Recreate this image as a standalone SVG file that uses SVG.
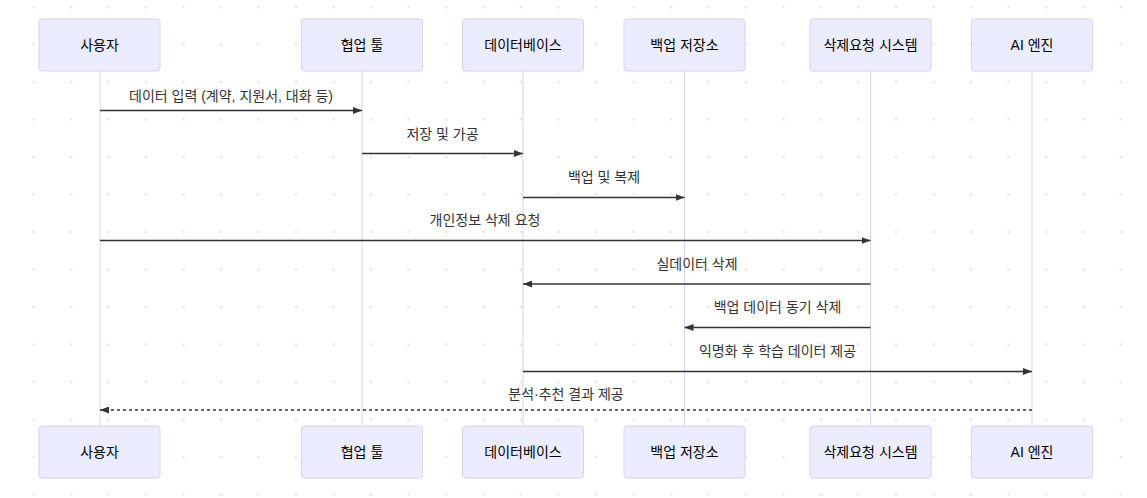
<svg xmlns="http://www.w3.org/2000/svg" width="1147" height="498" viewBox="0 0 1147 498">
<style>
.bg{fill:#ffffff}
.actor rect{fill:#ECECFF;stroke:#DACEF3;stroke-width:1}
.actor text{font-family:"Liberation Sans","Noto Sans CJK KR",sans-serif;font-size:14px;fill:#000;text-anchor:middle;dominant-baseline:central}
.life{stroke:#DACEF3;stroke-width:1}
.msg{stroke:#333;stroke-width:1.5;fill:none}
.dash{stroke-dasharray:3,3}
.lbl{font-family:"Liberation Sans","Noto Sans CJK KR",sans-serif;font-size:14px;fill:#333;text-anchor:middle;dominant-baseline:central}
</style>
<defs>
<pattern id="dots" x="0" y="0" width="37.5" height="37.5" patternUnits="userSpaceOnUse">
<rect x="32.25" y="5.75" width="2.5" height="2.5" fill="#e6e6e6"/>
</pattern>
<marker id="ah" viewBox="0 0 9 7" refX="9" refY="3.5" markerWidth="9" markerHeight="7" markerUnits="userSpaceOnUse" orient="auto">
<path d="M0,0 L9,3.5 L0,7 z" fill="#333"/>
</marker>
</defs>
<rect class="bg" x="0" y="0" width="1147" height="498"/>
<rect x="0" y="0" width="1147" height="498" fill="url(#dots)"/>
<g id="lifelines">
<line class="life" x1="100" y1="71" x2="100" y2="426"/>
<line class="life" x1="362" y1="71" x2="362" y2="426"/>
<line class="life" x1="523" y1="71" x2="523" y2="426"/>
<line class="life" x1="684.5" y1="71" x2="684.5" y2="426"/>
<line class="life" x1="870.5" y1="71" x2="870.5" y2="426"/>
<line class="life" x1="1032" y1="71" x2="1032" y2="426"/>
</g>
<g id="actor-user" class="actor">
<rect x="39" y="19" width="121" height="52" rx="3"/><text x="99.5" y="45">사용자</text>
<rect x="39" y="426" width="121" height="52" rx="3"/><text x="99.5" y="452">사용자</text>
</g>
<g id="actor-collab" class="actor">
<rect x="301.5" y="19" width="121" height="52" rx="3"/><text x="362" y="45">협업 툴</text>
<rect x="301.5" y="426" width="121" height="52" rx="3"/><text x="362" y="452">협업 툴</text>
</g>
<g id="actor-db" class="actor">
<rect x="462.5" y="19" width="121" height="52" rx="3"/><text x="523" y="45">데이터베이스</text>
<rect x="462.5" y="426" width="121" height="52" rx="3"/><text x="523" y="452">데이터베이스</text>
</g>
<g id="actor-backup" class="actor">
<rect x="624" y="19" width="121" height="52" rx="3"/><text x="684.5" y="45">백업 저장소</text>
<rect x="624" y="426" width="121" height="52" rx="3"/><text x="684.5" y="452">백업 저장소</text>
</g>
<g id="actor-delete" class="actor">
<rect x="810" y="19" width="121" height="52" rx="3"/><text x="870.5" y="45">삭제요청 시스템</text>
<rect x="810" y="426" width="121" height="52" rx="3"/><text x="870.5" y="452">삭제요청 시스템</text>
</g>
<g id="actor-ai" class="actor">
<rect x="971.5" y="19" width="121" height="52" rx="3"/><text x="1032" y="45">AI 엔진</text>
<rect x="971.5" y="426" width="121" height="52" rx="3"/><text x="1032" y="452">AI 엔진</text>
</g>
<g id="connectors">
<line class="msg" x1="100" y1="110.5" x2="362" y2="110.5" marker-end="url(#ah)"/>
<text class="lbl" x="231" y="95.5">데이터 입력 (계약, 지원서, 대화 등)</text>
<line class="msg" x1="362" y1="153.5" x2="523" y2="153.5" marker-end="url(#ah)"/>
<text class="lbl" x="442.5" y="133.5">저장 및 가공</text>
<line class="msg" x1="523" y1="197.5" x2="684.5" y2="197.5" marker-end="url(#ah)"/>
<text class="lbl" x="604" y="176.5">백업 및 복제</text>
<line class="msg" x1="100" y1="240.5" x2="870.5" y2="240.5" marker-end="url(#ah)"/>
<text class="lbl" x="485" y="220">개인정보 삭제 요청</text>
<line class="msg" x1="870.5" y1="284" x2="523" y2="284" marker-end="url(#ah)"/>
<text class="lbl" x="697" y="263.5">실데이터 삭제</text>
<line class="msg" x1="870.5" y1="327.5" x2="684.5" y2="327.5" marker-end="url(#ah)"/>
<text class="lbl" x="777.5" y="307">백업 데이터 동기 삭제</text>
<line class="msg" x1="523" y1="371.5" x2="1032" y2="371.5" marker-end="url(#ah)"/>
<text class="lbl" x="777.5" y="351">익명화 후 학습 데이터 제공</text>
<line class="msg dash" x1="1032" y1="410" x2="100" y2="410" marker-end="url(#ah)"/>
<text class="lbl" x="566" y="394">분석·추천 결과 제공</text>
</g>
</svg>
